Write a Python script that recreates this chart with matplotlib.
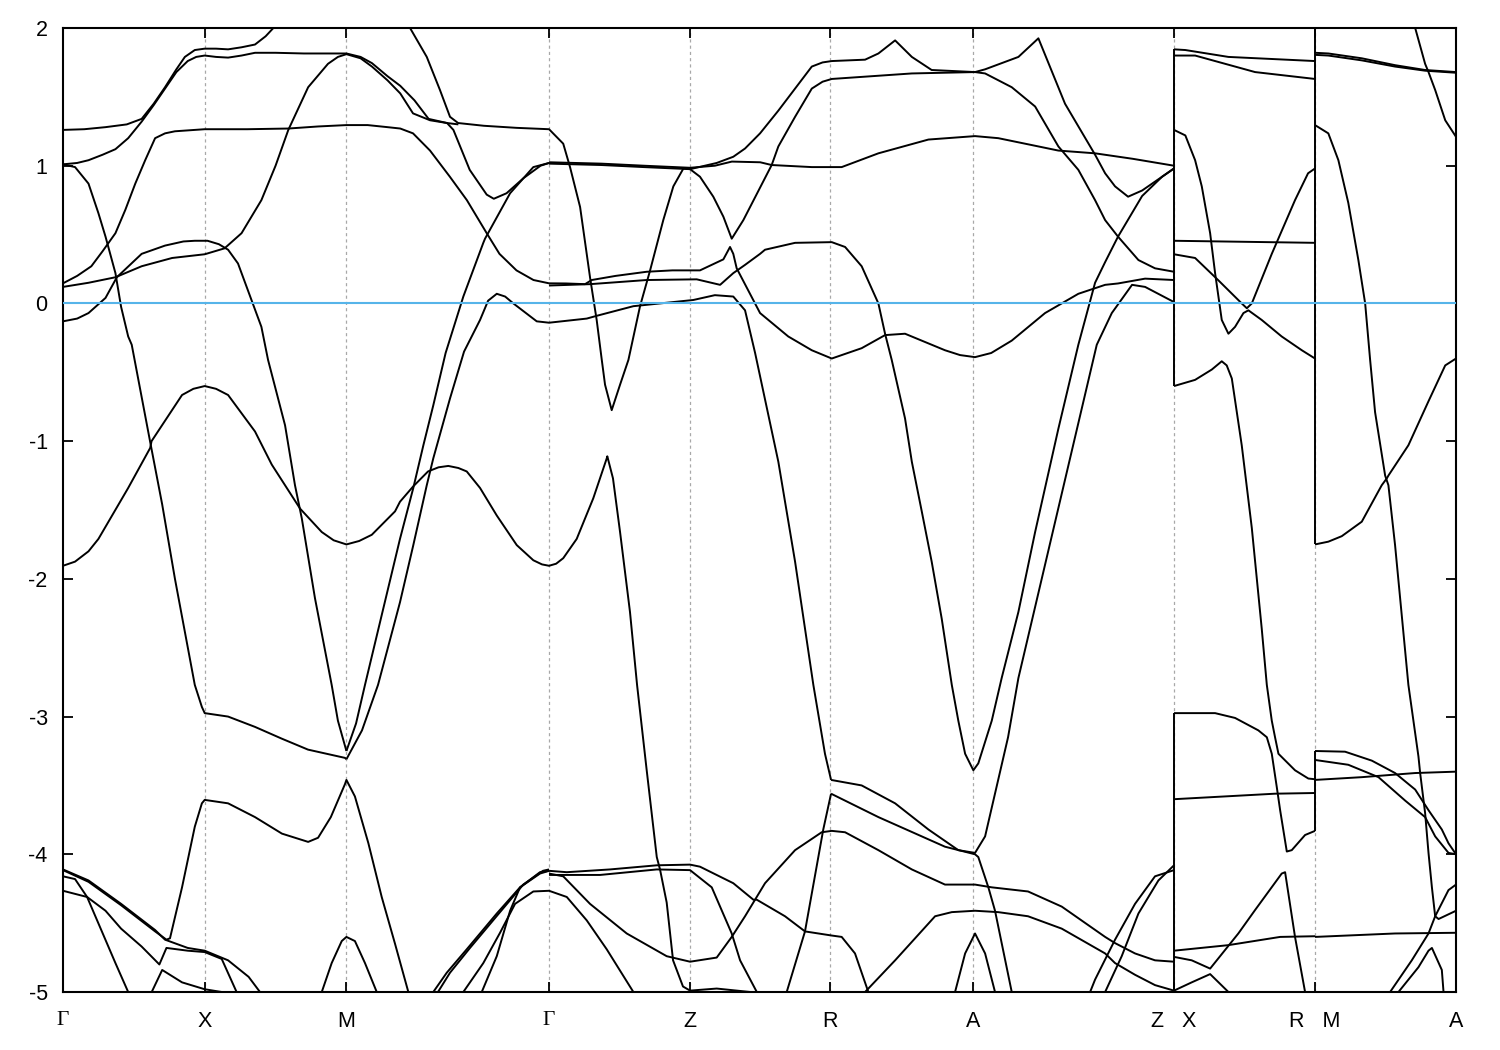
import matplotlib
matplotlib.use("Agg")
import matplotlib.pyplot as plt

# ---------------- data ----------------
# high-symmetry k positions (path units, Gamma-X = 1)
tick_pos = [0.0, 1.0, 2.0, 3.43, 4.425, 5.415, 6.425, 7.84, 8.835, 9.83]
tick_lab = ['Γ', 'X', 'M', 'Γ', 'Z', 'R', 'A', 'Z   X', 'R   M', 'A']
grid_pos = [1.0, 2.0, 3.43, 4.425, 5.415, 6.425, 7.84, 8.835]
y_ticks = [2, 1, 0, -1, -2, -3, -4, -5]

# bands: lists of (k, E[eV])
c1 = [(0,1.26),(0.15,1.265),(0.30,1.28),(0.45,1.30),(0.555,1.34),(0.64,1.45),(0.72,1.57),(0.80,1.70),
      (0.86,1.79),(0.93,1.84),(1.0,1.85),(1.08,1.85),(1.165,1.845),(1.26,1.86),(1.355,1.88),(1.43,1.94),(1.53,2.05)]
c2 = [(0,1.01),(0.10,1.02),(0.18,1.04),(0.28,1.08),(0.37,1.12),(0.46,1.20),(0.555,1.32),(0.64,1.44),(0.72,1.56),
      (0.80,1.68),(0.88,1.76),(0.94,1.79),(1.0,1.80),(1.08,1.79),(1.165,1.785),(1.26,1.80),(1.355,1.82),(1.50,1.82),
      (1.70,1.815),(1.85,1.815),(2.0,1.815),(2.10,1.79),(2.18,1.745),(2.29,1.65),(2.38,1.58),(2.48,1.475),
      (2.58,1.34),(2.71,1.31),(2.79,1.30)]
c3 = [(0,0.146),(0.10,0.20),(0.20,0.27),(0.28,0.38),(0.37,0.51),(0.44,0.68),(0.51,0.87),(0.58,1.04),(0.65,1.20),
      (0.72,1.235),(0.79,1.25),(1.0,1.265),(1.30,1.265),(1.59,1.27),(1.80,1.285),(2.0,1.295),(2.15,1.295),
      (2.29,1.28),(2.38,1.27),(2.47,1.235),(2.59,1.11),(2.73,0.92),(2.85,0.75),(2.99,0.51),(3.08,0.36),
      (3.20,0.24),(3.32,0.17),(3.43,0.146)]
c4 = [(0,0.12),(0.18,0.15),(0.37,0.19),(0.555,0.27),(0.77,0.33),(1.0,0.357),(1.14,0.40),(1.26,0.51),(1.40,0.75),
      (1.50,1.00),(1.59,1.26),(1.73,1.57),(1.87,1.74),(1.94,1.79),(2.0,1.81),(2.10,1.78),(2.18,1.72),(2.29,1.62),
      (2.38,1.525),(2.47,1.38),(2.59,1.33),(2.71,1.31),(2.755,1.26),(2.87,0.97),(2.99,0.79),(3.04,0.76),
      (3.13,0.80),(3.25,0.91),(3.37,1.0),(3.43,1.02)]
c5 = [(0,-0.13),(0.10,-0.11),(0.18,-0.07),(0.30,0.04),(0.38,0.19),(0.555,0.36),(0.72,0.42),(0.85,0.45),
      (0.93,0.455),(1.02,0.455),(1.10,0.43),(1.165,0.39),(1.235,0.29),(1.33,0.025),(1.40,-0.17),(1.447,-0.41),
      (1.567,-0.885),(1.637,-1.32),(1.685,-1.56),(1.778,-2.14),(1.896,-2.77),(1.94,-3.03),(2.0,-3.25)]
c6 = [(0,1.01),(0.085,0.99),(0.18,0.87),(0.25,0.655),(0.30,0.485),(0.37,0.22),(0.41,-0.025),(0.46,-0.24),
      (0.485,-0.30),(0.615,-1.005),(0.70,-1.46),(0.79,-2.0),(0.93,-2.77),(0.98,-2.93),(1.0,-2.975),(1.165,-3.0),
      (1.355,-3.075),(1.543,-3.16),(1.729,-3.24),(1.99,-3.30),(2.0,-3.31)]
c7 = [(0,-1.905),(0.085,-1.875),(0.18,-1.80),(0.25,-1.71),(0.46,-1.34),(0.615,-1.05),(0.625,-1.0),
      (0.84,-0.665),(0.92,-0.62),(1.0,-0.60),(1.08,-0.62),(1.165,-0.665),(1.355,-0.93),(1.473,-1.17),
      (1.673,-1.49),(1.826,-1.66),(1.91,-1.72),(2.0,-1.75),(2.09,-1.725),(2.179,-1.68),(2.343,-1.51),
      (2.378,-1.44),(2.47,-1.33),(2.576,-1.22),(2.65,-1.19),(2.719,-1.18),(2.79,-1.195),(2.849,-1.22),
      (2.943,-1.34),(3.061,-1.54),(3.202,-1.755),(3.319,-1.865),(3.38,-1.895),(3.43,-1.905),(3.48,-1.89),
      (3.53,-1.85),(3.625,-1.71),(3.742,-1.415),(3.837,-1.125),(3.841,-1.11),(3.881,-1.27),(3.931,-1.66),
      (4.001,-2.24),(4.051,-2.77),(4.119,-3.39),(4.19,-4.02),(4.213,-4.11),(4.26,-4.35),(4.305,-4.77),
      (4.375,-4.96),(4.425,-4.99),(4.613,-4.975),(4.85,-5.0)]
m_inner = [(2.0,-3.25),(2.068,-3.05),(2.131,-2.77),(2.378,-1.71),(2.472,-1.34),(2.543,-1.03),(2.613,-0.74),
           (2.70,-0.36),(2.825,0.05),(2.966,0.44),(2.978,0.47),(3.037,0.58),(3.155,0.80),(3.319,0.99),(3.43,1.02)]
m_outer = [(2.0,-3.31),(2.11,-3.10),(2.223,-2.77),(2.378,-2.17),(2.472,-1.755),(2.567,-1.32),(2.613,-1.125),
           (2.731,-0.69),(2.83,-0.35),(2.943,-0.12),(3.0,0.02),(3.061,0.07),(3.12,0.05),(3.178,0.0),
           (3.343,-0.13),(3.43,-0.14)]
t1 = [(2.42,2.05),(2.449,2.0),(2.567,1.79),(2.66,1.55),(2.731,1.355),(2.788,1.31),(2.97,1.29),(3.20,1.275),
      (3.43,1.265),(3.53,1.16),(3.578,0.99),(3.649,0.70),(3.719,0.19),(3.766,-0.12),(3.802,-0.41),(3.825,-0.59),
      (3.872,-0.775),(3.931,-0.59),(3.99,-0.41),(4.072,-0.02),(4.143,0.24),(4.236,0.605),(4.307,0.85),
      (4.378,0.98),(4.425,0.975),(4.495,0.92),(4.589,0.775),(4.66,0.63),(4.719,0.47),(4.801,0.605),
      (5.001,1.005),(5.048,1.14),(5.166,1.355),(5.284,1.56),(5.36,1.61),(5.425,1.63),(5.99,1.67),(6.436,1.68),
      (6.507,1.67),(6.695,1.57),(6.86,1.43),(7.024,1.14),(7.165,0.97),(7.283,0.75),(7.354,0.605),
      (7.445,0.485),(7.589,0.315),(7.706,0.255),(7.84,0.23)]
c5a = [(3.43,1.025),(3.8,1.015),(4.1,1.0),(4.425,0.985),(4.60,1.0),(4.72,1.03),(4.92,1.025),(5.001,1.005),
       (5.284,0.99),(5.495,0.99),(5.754,1.09),(6.107,1.19),(6.436,1.215),(6.60,1.20),(6.836,1.15),
       (7.024,1.11),(7.283,1.09),(7.55,1.05),(7.84,1.0)]
c5b = [(3.43,1.015),(3.8,1.005),(4.1,0.99),(4.425,0.975),(4.613,1.02),(4.73,1.065),(4.813,1.125),
       (4.919,1.235),(5.048,1.40),(5.284,1.72),(5.36,1.75),(5.425,1.76),(5.66,1.77),(5.754,1.815),(5.872,1.91),
       (5.99,1.79),(6.13,1.695),(6.436,1.68),(6.507,1.70),(6.742,1.79),(6.883,1.925),(7.071,1.45),
       (7.283,1.08),(7.354,0.945),(7.424,0.85),(7.516,0.775),(7.615,0.82),(7.756,0.92),(7.84,0.98)]
m1 = [(3.43,0.146),(3.55,0.145),(3.684,0.14),(3.731,0.17),(3.90,0.20),(4.119,0.23),(4.30,0.24),(4.495,0.24),
      (4.66,0.32),(4.707,0.41),(4.73,0.36),(4.754,0.255),(4.919,-0.07),(5.118,-0.24),(5.284,-0.34),
      (5.425,-0.40),(5.636,-0.325),(5.801,-0.23),(5.942,-0.22),(6.224,-0.34),(6.33,-0.375),(6.436,-0.39),
      (6.55,-0.36),(6.695,-0.27),(6.93,-0.07),(7.165,0.07),(7.354,0.135),(7.445,0.145),(7.636,0.18),(7.84,0.17)]
m2 = [(3.43,0.13),(3.72,0.14),(4.119,0.17),(4.472,0.175),(4.637,0.135),(4.73,0.22),(4.813,0.28),(4.919,0.36),
      (4.954,0.39),(5.166,0.44),(5.425,0.445),(5.519,0.41),(5.636,0.27),(5.754,0.0),(5.801,-0.22),
      (5.848,-0.41),(5.942,-0.835),(5.99,-1.15),(6.06,-1.51),(6.13,-1.875),(6.201,-2.29),(6.272,-2.77),
      (6.318,-3.03),(6.366,-3.27),(6.424,-3.39),(6.459,-3.34),(6.554,-3.03),(6.624,-2.72),(6.742,-2.24),
      (6.86,-1.66),(7.024,-0.91),(7.165,-0.30),(7.283,0.15),(7.354,0.30),(7.445,0.485),(7.615,0.78),
      (7.756,0.92),(7.84,0.98)]
m3 = [(3.43,-0.14),(3.696,-0.11),(3.766,-0.09),(4.025,-0.02),(4.448,0.025),(4.60,0.06),(4.73,0.05),
      (4.813,-0.05),(4.884,-0.36),(5.048,-1.15),(5.166,-1.875),(5.295,-2.77),(5.377,-3.27),(5.42,-3.46)]
ra1 = [(5.42,-3.46),(5.636,-3.50),(5.872,-3.63),(6.107,-3.82),(6.318,-3.97),(6.436,-3.99),(6.507,-3.87),
       (6.669,-3.15),(6.742,-2.72),(7.295,-0.30),(7.401,-0.07),(7.544,0.135),(7.636,0.12),(7.84,0.01)]
ra2 = [(5.42,-3.56),(5.754,-3.73),(6.224,-3.945),(6.436,-4.0),(6.459,-4.02),(6.53,-4.24),(6.577,-4.41),
       (6.695,-5.0)]
rr = [(5.107,-5.0),(5.236,-4.56),(5.365,-3.82),(5.42,-3.56)]
g1 = [(3.43,-4.12),(3.555,-4.13),(3.86,-4.11),(4.19,-4.08),(4.425,-4.075),(4.495,-4.09),(4.73,-4.21),
      (4.872,-4.33),(4.896,-4.33),(5.095,-4.45),(5.236,-4.56),(5.425,-4.59),(5.495,-4.60),(5.589,-4.72),
      (5.683,-5.0)]
g2 = [(3.43,-4.15),(3.79,-4.15),(4.19,-4.11),(4.425,-4.115),(4.578,-4.24),(4.719,-4.575),(4.778,-4.77),
      (4.896,-5.0)]
u = [(3.43,-4.14),(3.53,-4.16),(3.719,-4.36),(3.978,-4.575),(4.26,-4.74),(4.425,-4.78),(4.613,-4.75),
     (4.719,-4.60),(4.813,-4.45),(4.954,-4.21),(5.166,-3.97),(5.354,-3.84),(5.425,-3.83),(5.519,-3.84),
     (5.754,-3.97),(5.99,-4.11),(6.224,-4.22),(6.436,-4.22),(6.554,-4.24),(6.81,-4.27),(7.048,-4.38),
     (7.354,-4.60),(7.424,-4.645),(7.565,-4.72),(7.706,-4.77),(7.84,-4.78)]
a2 = [(5.66,-5.0),(5.872,-4.77),(6.154,-4.45),(6.272,-4.42),(6.436,-4.41),(6.599,-4.42),(6.81,-4.45),
      (7.048,-4.54),(7.354,-4.72),(7.424,-4.79),(7.565,-4.875),(7.706,-4.95),(7.84,-4.99)]
dome_a = [(6.295,-5.0),(6.366,-4.72),(6.436,-4.575),(6.507,-4.72),(6.577,-5.0)]
zb1 = [(7.248,-5.0),(7.283,-4.91),(7.424,-4.62),(7.565,-4.36),(7.706,-4.16),(7.84,-4.115)]
zb2 = [(7.354,-5.0),(7.471,-4.74),(7.589,-4.43),(7.73,-4.19),(7.84,-4.08)]
l1 = [(0,-4.11),(0.18,-4.19),(0.41,-4.36),(0.65,-4.55),(0.72,-4.62),(0.88,-4.68),(1.0,-4.70),(1.165,-4.77),
      (1.31,-4.89),(1.39,-5.0)]
l2 = [(0,-4.115),(0.18,-4.20),(0.41,-4.37),(0.65,-4.56),(0.73,-4.62),(0.755,-4.61),(0.84,-4.24),(0.93,-3.80),
      (0.98,-3.63),(1.0,-3.605),(1.165,-3.63),(1.355,-3.73),(1.545,-3.85),(1.73,-3.91),(1.80,-3.88),
      (1.89,-3.73),(1.99,-3.49),(2.0,-3.46),(2.06,-3.58),(2.155,-3.92),(2.249,-4.31),(2.343,-4.65),(2.437,-5.0)]
l3 = [(0,-4.265),(0.17,-4.31),(0.30,-4.41),(0.41,-4.54),(0.555,-4.67),(0.68,-4.80),(0.73,-4.68),(0.88,-4.70),
      (1.0,-4.71),(1.12,-4.76),(1.225,-5.0)]
l4 = [(0,-4.16),(0.085,-4.18),(0.17,-4.31),(0.27,-4.55),(0.37,-4.79),(0.46,-5.0)]
l5 = [(0.626,-5.0),(0.70,-4.84),(0.84,-4.93),(1.0,-4.98),(1.12,-5.0)]
dome_m = [(1.826,-5.0),(1.896,-4.79),(1.967,-4.63),(2.0,-4.60),(2.06,-4.63),(2.131,-4.79),(2.214,-5.0)]
r1 = [(2.613,-5.0),(2.708,-4.86),(2.849,-4.69),(3.061,-4.43),(3.225,-4.24),(3.366,-4.13),(3.43,-4.12)]
r2 = [(2.646,-5.0),(2.731,-4.86),(2.872,-4.68),(3.084,-4.42),(3.248,-4.22),(3.387,-4.12),(3.43,-4.11)]
r3 = [(2.825,-5.0),(2.966,-4.79),(3.084,-4.57),(3.19,-4.36),(3.319,-4.27),(3.43,-4.265),(3.555,-4.31),
      (3.696,-4.48),(3.837,-4.69),(4.025,-5.0)]
r4 = [(2.955,-5.0),(3.061,-4.74),(3.155,-4.41),(3.225,-4.24),(3.366,-4.14),(3.43,-4.12)]
# X -> R
xr1 = [(7.84,1.845),(7.92,1.84),(8.224,1.79),(8.835,1.76)]
xr2 = [(7.84,1.80),(7.989,1.80),(8.412,1.68),(8.835,1.63)]
xr3 = [(7.84,1.26),(7.92,1.22),(7.989,1.04),(8.036,0.85),(8.095,0.51),(8.13,0.22),(8.177,-0.12),(8.224,-0.22),
       (8.271,-0.17),(8.33,-0.07),(8.365,-0.05),(8.459,-0.12),(8.60,-0.24),(8.742,-0.34),(8.835,-0.40)]
xr4 = [(7.84,0.455),(8.835,0.44)]
xr5 = [(7.84,0.357),(7.989,0.33),(8.151,0.17),(8.318,0.0),(8.354,-0.035),(8.389,0.0),(8.53,0.36),(8.694,0.75),
       (8.786,0.945),(8.835,0.98)]
xr6 = [(7.84,-0.60),(7.989,-0.555),(8.107,-0.48),(8.177,-0.42),(8.212,-0.45),(8.248,-0.545),(8.318,-1.03),
       (8.389,-1.63),(8.459,-2.36),(8.495,-2.77),(8.53,-3.03),(8.553,-3.15),(8.577,-3.27),(8.694,-3.39),
       (8.788,-3.45),(8.835,-3.455)]
xr7 = [(7.84,-2.975),(8.13,-2.975),(8.271,-3.01),(8.435,-3.10),(8.495,-3.15),(8.53,-3.27),(8.565,-3.51),
       (8.589,-3.68),(8.636,-3.98),(8.671,-3.97),(8.765,-3.86),(8.835,-3.83)]
xr8 = [(7.84,-3.60),(8.553,-3.56),(8.835,-3.555)]
xr9 = [(7.84,-4.70),(8.222,-4.66),(8.589,-4.60),(8.835,-4.595)]
xr10 = [(7.84,-4.745),(7.965,-4.77),(8.095,-4.83),(8.294,-4.575),(8.412,-4.405),(8.60,-4.14),(8.624,-4.13),
        (8.694,-4.60),(8.765,-5.0)]
xr11 = [(7.84,-4.99),(7.965,-4.93),(8.095,-4.87),(8.224,-5.0)]
# M -> A
ma1 = [(8.835,1.82),(8.929,1.815),(9.165,1.78),(9.40,1.73),(9.612,1.695),(9.83,1.68)]
ma2 = [(8.835,1.805),(8.929,1.80),(9.165,1.765),(9.40,1.72),(9.612,1.69),(9.83,1.675)]
ma3 = [(9.53,2.05),(9.542,2.0),(9.612,1.74),(9.636,1.68),(9.683,1.55),(9.754,1.33),(9.83,1.21)]
ma4 = [(8.835,1.295),(8.929,1.235),(9.0,1.04),(9.07,0.73),(9.141,0.315),(9.189,0.0),(9.224,-0.41),
       (9.259,-0.79),(9.33,-1.25),(9.353,-1.32),(9.40,-1.755),(9.494,-2.77),(9.565,-3.29),(9.577,-3.41),
       (9.612,-3.70),(9.636,-3.99),(9.66,-4.24),(9.683,-4.45),(9.707,-4.47),(9.83,-4.41)]
ma5 = [(8.835,-1.75),(8.929,-1.73),(9.024,-1.69),(9.165,-1.585),(9.306,-1.32),(9.342,-1.27),(9.353,-1.25),
       (9.494,-1.03),(9.636,-0.71),(9.754,-0.45),(9.83,-0.40)]
ma6 = [(8.835,-3.25),(9.047,-3.255),(9.236,-3.32),(9.40,-3.41),(9.542,-3.53),(9.636,-3.68),(9.73,-3.82),
       (9.777,-3.92),(9.83,-4.0)]
ma7 = [(8.835,-3.315),(9.07,-3.35),(9.283,-3.44),(9.471,-3.61),(9.612,-3.73),(9.683,-3.87),(9.777,-3.99),
       (9.83,-4.0)]
ma8 = [(8.835,-3.46),(9.165,-3.44),(9.542,-3.41),(9.83,-3.40)]
ma9 = [(8.835,-4.60),(9.40,-4.575),(9.83,-4.57)]
ma10 = [(9.365,-5.0),(9.518,-4.77),(9.636,-4.575),(9.683,-4.45),(9.777,-4.26),(9.83,-4.22)]
ma11 = [(9.424,-5.0),(9.565,-4.82),(9.636,-4.70),(9.66,-4.68),(9.73,-4.84),(9.742,-5.0)]

bands = [c1, c2, c3, c4, c5, c6, c7, m_inner, m_outer, t1, c5a, c5b, m1, m2, m3, ra1, ra2, rr,
         g1, g2, u, a2, dome_a, zb1, zb2, l1, l2, l3, l4, l5, dome_m, r1, r2, r3, r4,
         xr1, xr2, xr3, xr4, xr5, xr6, xr7, xr8, xr9, xr10, xr11,
         ma1, ma2, ma3, ma4, ma5, ma6, ma7, ma8, ma9, ma10, ma11]

# jumps of the band lines at the path discontinuities (k, E_low, E_high)
break_jumps = [(7.84, -0.60, 1.845), (7.84, -5.0, -2.975),
               (8.835, -1.75, 2.05), (8.835, -3.83, -3.25)]

# ---------------- plot ----------------
plt.rcParams['font.family'] = ['Liberation Sans', 'DejaVu Sans']
fig = plt.figure(figsize=(15, 10.5), dpi=100)
ax = fig.add_axes([63/1500, 1-992/1050, (1456-63)/1500, (992-28)/1050])
ax.set_xlim(tick_pos[0], tick_pos[-1])
ax.set_ylim(-5, 2)

for g in grid_pos:
    ax.axvline(g, color='#a8a8a8', lw=0.9, ls=(0, (2.5, 2.5)), zorder=0)

for b in bands:
    ks = [p[0] for p in b]
    es = [p[1] for p in b]
    ax.plot(ks, es, color='black', lw=1.4, solid_joinstyle='round', solid_capstyle='butt', zorder=2)

for k, lo, hi in break_jumps:
    ax.vlines(k, lo, hi, color='black', lw=1.4, zorder=2)

ax.axhline(0, color='#56b4e9', lw=1.5, zorder=3)

ax.set_xticks(tick_pos)
ax.set_xticklabels(tick_lab)
ax.set_yticks(y_ticks)
ax.set_yticklabels([str(v) for v in y_ticks])
ax.tick_params(axis='both', direction='in', length=7, width=1.3, top=True, right=True, labelsize=15.5)
ax.tick_params(axis='y', pad=11)
ax.tick_params(axis='x', pad=14)
for lab in ax.get_xticklabels():
    if lab.get_text() == 'Γ':
        lab.set_fontfamily(['Liberation Serif', 'DejaVu Serif'])
for s in ax.spines.values():
    s.set_linewidth(1.5)

fig.savefig('out.png', dpi=100)
